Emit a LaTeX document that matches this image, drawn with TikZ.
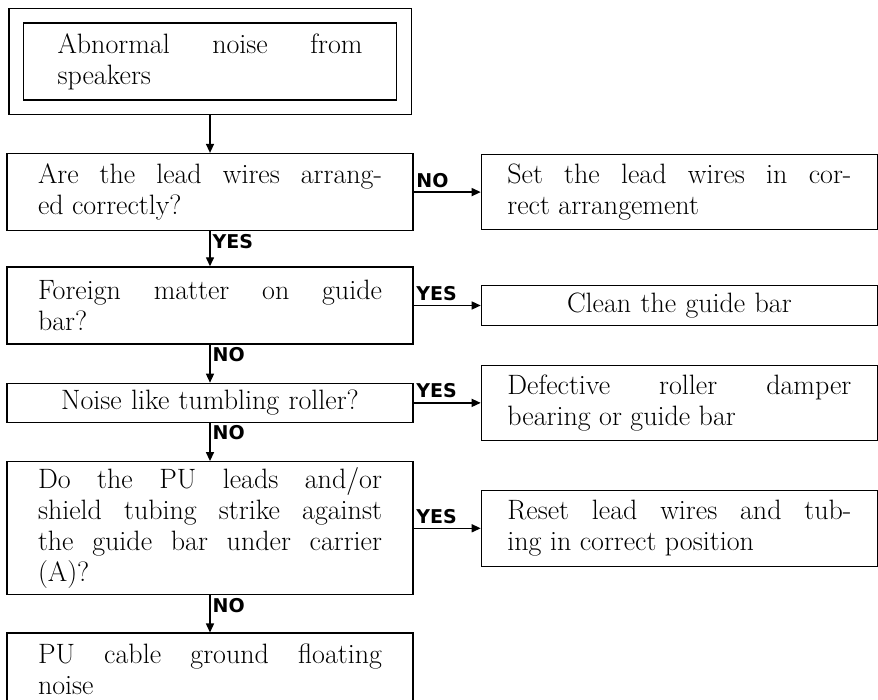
\documentclass[tikz,border=0pt]{standalone}
\usepackage{fontspec}
\usepackage{tikz}
\usetikzlibrary{positioning, arrows.meta, fit}
\newfontfamily\lblfont{DejaVu Sans}
\tikzset{
  box/.style={draw, line width=1.4pt, minimum width=406pt, text width=344pt,
              align=justify, inner sep=4pt, font=\fontsize{28}{31}\selectfont},
  res/.style={box, minimum width=396pt},
  ar/.style={-{Triangle[length=9pt, width=8pt]}, line width=1.4pt},
  lbl/.style={font=\fontsize{19}{19}\lblfont\bfseries, inner sep=2pt},
}

\begin{document}
\begin{tikzpicture}[x=1pt, y=1pt]
  \useasboundingbox (0,0) rectangle (878,700);

  % --- question column (left) ---
  \node[box, minimum width=373pt, minimum height=77pt, text width=305pt] (start) at (210,638.5)
       {Abnormal noise from\linebreak speakers};
  \node[draw, line width=1.4pt, inner sep=14pt, fit=(start)] (startframe) {};
  \node[box, minimum height=77pt, below=37.5pt of startframe] (wires)
       {Are the lead wires arrang-\linebreak ed correctly?};
  \node[box, minimum height=77pt, below=35pt of wires] (matter)
       {Foreign matter on guide\linebreak bar?};
  \node[box, align=center, minimum height=39pt, below=38pt of matter] (roller)
       {Noise like tumbling roller?};
  \node[box, minimum height=133pt, below=38pt of roller] (strike)
       {Do the PU leads and/or\linebreak shield tubing strike against\linebreak the guide bar under carrier\linebreak (A)?};
  \node[box, minimum height=73pt, below=37pt of strike] (ground)
       {PU cable ground floating\linebreak noise};

  % --- remedy column (right) ---
  \node[res, minimum height=75pt, right=67pt of wires] (fixwires)
       {Set the lead wires in cor-\linebreak rect arrangement};
  \node[res, align=center, minimum height=40pt, right=67pt of matter] (clean)
       {Clean the guide bar};
  \node[res, minimum height=75pt, right=67pt of roller] (damper)
       {Defective roller damper\linebreak bearing or guide bar};
  \node[res, minimum height=76pt, right=67pt of strike] (reset)
       {Reset lead wires and tub-\linebreak ing in correct position};

  % --- arrows ---
  \draw[ar] (startframe) -- (wires);
  \draw[ar] (wires) -- node[lbl, pos=0, anchor=north west]{YES} (matter);
  \draw[ar] (matter) -- node[lbl, pos=0, anchor=north west]{NO} (roller);
  \draw[ar] (roller) -- node[lbl, pos=0, anchor=north west]{NO} (strike);
  \draw[ar] (strike) -- node[lbl, pos=0, anchor=north west]{NO} (ground);

  \draw[ar] (wires) -- node[lbl, pos=0, anchor=south west, yshift=2pt]{NO} (fixwires);
  \draw[ar] (matter) -- node[lbl, pos=0, anchor=south west, yshift=2pt]{YES} (clean);
  \draw[ar] (roller) -- node[lbl, pos=0, anchor=south west, yshift=2pt]{YES} (damper);
  \draw[ar] (strike) -- node[lbl, pos=0, anchor=south west, yshift=2pt]{YES} (reset);

\end{tikzpicture}
\end{document}
